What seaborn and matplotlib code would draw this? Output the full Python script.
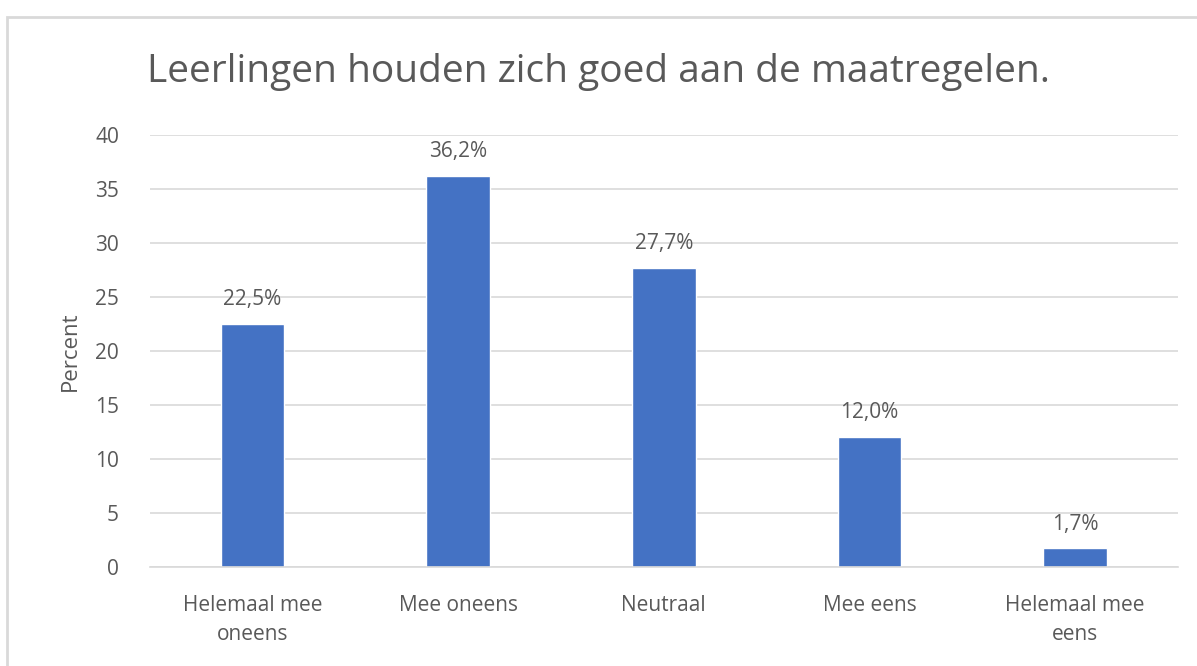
import matplotlib
matplotlib.use("Agg")
import matplotlib.pyplot as plt
import seaborn as sns
import pandas as pd
from matplotlib.patches import Rectangle

# Data
categories = ["Helemaal mee\noneens", "Mee oneens", "Neutraal", "Mee eens", "Helemaal mee\neens"]
percent = [22.5, 36.2, 27.7, 12.0, 1.7]
labels = ["22,5%", "36,2%", "27,7%", "12,0%", "1,7%"]

sns.set_theme(style="white")
plt.rcParams['font.family'] = ['Open Sans', 'DejaVu Sans']

grey = "#595959"
df = pd.DataFrame({"categorie": categories, "percent": percent})

fig = plt.figure(figsize=(11.97, 6.66), dpi=100)
ax = fig.add_axes([0.125, 0.149, 0.859, 0.648])

sns.barplot(data=df, x="categorie", y="percent", color="#4472C4",
            width=0.31, saturation=1, ax=ax)

for p, lab in zip(ax.patches, labels):
    ax.annotate(lab, (p.get_x() + p.get_width() / 2, p.get_height()),
                xytext=(0, 10), textcoords="offset points",
                ha="center", va="bottom", fontsize=15, color=grey)

ax.set_ylim(0, 40)
ax.set_yticks(range(0, 41, 5))
ax.set_xlim(-0.5, 4.5)
ax.yaxis.grid(True, color="#d9d9d9", linewidth=1.2)
ax.set_axisbelow(True)
for s in ["top", "right", "left"]:
    ax.spines[s].set_visible(False)
ax.spines["bottom"].set_color("#d9d9d9")
ax.spines["bottom"].set_linewidth(1.2)
ax.tick_params(axis="both", length=0, labelsize=15, colors=grey)
ax.tick_params(axis="x", pad=20)
ax.tick_params(axis="y", pad=22)
for t in ax.get_xticklabels():
    t.set_linespacing(1.5)
ax.set_xlabel("")
ax.set_ylabel("Percent", fontsize=16, color=grey, labelpad=10)

fig.suptitle("Leerlingen houden zich goed aan de maatregelen.",
             fontsize=28, color=grey, x=0.5, y=0.92)

# Chart border
fig.patches.append(Rectangle((7 / 1197, -0.01), 1.1, 1 - 17 / 666 + 0.01,
                             transform=fig.transFigure, fill=False,
                             edgecolor="#d9d9d9", linewidth=2))

plt.savefig("out.png", dpi=100)
plt.close()
